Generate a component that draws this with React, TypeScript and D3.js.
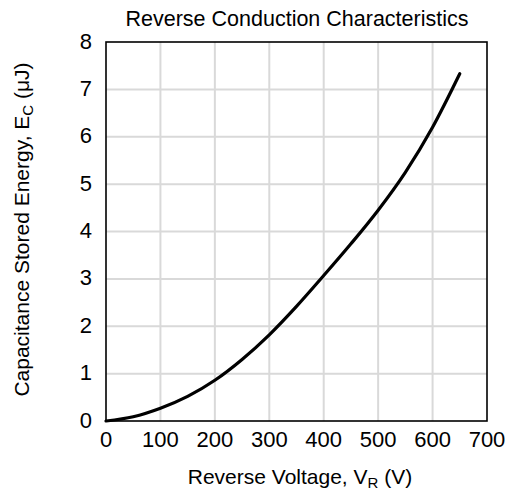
import React from 'react';
import * as d3 from 'd3';

// reverse voltage (V) vs capacitance stored energy (uJ)
const voltage = [0, 50, 100, 150, 200, 250, 300, 350, 400, 450, 500, 550, 600, 650];
const energy = [0, 0.09, 0.27, 0.52, 0.86, 1.3, 1.82, 2.42, 3.07, 3.74, 4.45, 5.25, 6.2, 7.33];
const xTicks = [0, 100, 200, 300, 400, 500, 600, 700];
const yTicks = [0, 1, 2, 3, 4, 5, 6, 7, 8];

const width = 508;
const height = 494;
const margin = { top: 42, right: 21, bottom: 73, left: 106 };

const App = () => {
  const x = d3
    .scaleLinear()
    .domain([0, 700])
    .range([margin.left, width - margin.right]);
  const y = d3
    .scaleLinear()
    .domain([0, 8])
    .range([height - margin.bottom, margin.top]);

  const line = d3
    .line<number>()
    .x((_, i) => x(voltage[i]))
    .y((d) => y(d))
    .curve(d3.curveMonotoneX);

  const font = 'Arial, "Liberation Sans", sans-serif';

  return (
    <svg
      width={width}
      height={height}
      style={{ position: 'absolute', left: 0, top: 0, background: '#fff' }}
      fontFamily={font}
    >
      <text x={297} y={26} textAnchor="middle" fontSize={21.5}>
        Reverse Conduction Characteristics
      </text>

      {/* grid */}
      {xTicks.slice(1, -1).map((t) => (
        <line key={'gx' + t} x1={x(t)} x2={x(t)} y1={y(0)} y2={y(8)} stroke="#d9d9d9" strokeWidth={2} />
      ))}
      {yTicks.slice(1, -1).map((t) => (
        <line key={'gy' + t} x1={x(0)} x2={x(700)} y1={y(t)} y2={y(t)} stroke="#d9d9d9" strokeWidth={2} />
      ))}

      <path d={line(energy) || ''} fill="none" stroke="#000" strokeWidth={3.2} strokeLinecap="round" />

      <rect
        x={x(0)}
        y={y(8)}
        width={x(700) - x(0)}
        height={y(0) - y(8)}
        fill="none"
        stroke="#000"
        strokeWidth={1.6}
      />

      {xTicks.map((t) => (
        <text key={'tx' + t} x={x(t)} y={y(0) + 26} textAnchor="middle" fontSize={22}>
          {t}
        </text>
      ))}
      {yTicks.map((t) => (
        <text key={'ty' + t} x={x(0) - 14} y={y(t) + 6.5} textAnchor="end" fontSize={22}>
          {t}
        </text>
      ))}

      <text x={300} y={484} textAnchor="middle" fontSize={21}>
        Reverse Voltage, V<tspan fontSize={15} dy={4}>R</tspan>
        <tspan dy={-4}> (V)</tspan>
      </text>
      <text
        transform={`translate(29, ${(y(0) + y(8)) / 2 - 2}) rotate(-90)`}
        textAnchor="middle"
        fontSize={21}
      >
        Capacitance Stored Energy, E<tspan fontSize={15} dy={4}>C</tspan>
        <tspan dy={-4}> (μJ)</tspan>
      </text>
    </svg>
  );
};

export default App;
